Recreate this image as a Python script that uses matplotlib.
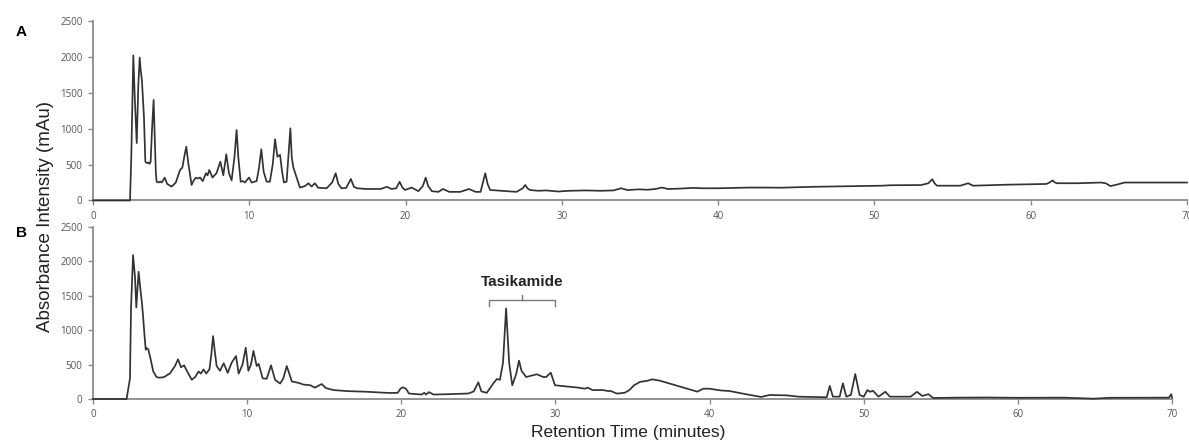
import numpy as np
import matplotlib
matplotlib.use("Agg")
import matplotlib.pyplot as plt

# chromatogram A (time in min, absorbance in mAu)
a_t = [0, 2.3, 2.37, 2.45, 2.58, 2.68, 2.80, 2.90, 2.99, 3.06, 3.13, 3.26, 3.35, 3.45, 3.55, 3.62,
       3.69, 3.78, 3.88, 3.95, 4.02, 4.07, 4.2, 4.3, 4.4, 4.59, 4.75, 5.03, 5.3, 5.57, 5.72, 5.85,
       5.97, 6.1, 6.31, 6.45, 6.59, 6.72, 6.85, 7.02, 7.23, 7.33, 7.44, 7.65, 7.9, 8.15, 8.34, 8.53,
       8.7, 8.87, 9.05, 9.19, 9.3, 9.45, 9.6, 9.72, 9.98, 10.15, 10.47, 10.62, 10.77, 10.92, 11.11,
       11.32, 11.5, 11.65, 11.8, 11.97, 12.1, 12.22, 12.39, 12.5, 12.63, 12.72, 12.82, 13.03, 13.24,
       13.56, 13.78, 13.99, 14.2, 14.4, 14.95, 15.3, 15.53, 15.7, 15.9, 16.2, 16.5, 16.7, 16.9, 17.5,
       18.4, 18.8, 19.1, 19.4, 19.62, 19.8, 19.96, 20.39, 20.82, 21.1, 21.29, 21.45, 21.68, 22.1,
       22.4, 22.8, 23.5, 24.06, 24.48, 24.8, 24.95, 25.1, 25.25, 25.41, 25.8, 26.5, 27.1, 27.5,
       27.66, 27.8, 27.96, 28.5, 29.0, 29.75, 30.5, 31.5, 32.5, 33.3, 33.8, 34.2, 34.9, 35.5, 36.0,
       36.4, 36.8, 37.5, 38.4, 39.0, 40.0, 41.0, 42.0, 43.0, 44.0, 46.0, 48.8, 50.5, 51.0, 53.0,
       53.45, 53.7, 53.85, 54.0, 55.5, 56.0, 56.3, 58.5, 61.0, 61.2, 61.4, 61.55, 61.7, 63.0, 64.5,
       64.8, 65.1, 65.5, 66.0, 70]
a_v = [0, 0, 0, 600, 2020, 1400, 800, 1600, 1990, 1800, 1680, 1170, 540, 520, 530, 510,
       540, 1000, 1400, 900, 400, 262, 250, 265, 250, 318, 230, 193, 250, 425, 460, 620,
       750, 520, 216, 280, 318, 305, 320, 270, 379, 350, 425, 320, 379, 540, 350, 643,
       380, 280, 600, 982, 600, 262, 270, 250, 320, 250, 270, 450, 713, 400, 262,
       262, 500, 852, 610, 635, 400, 250, 262, 600, 1005, 600, 460, 320, 180,
       200, 240, 195, 240, 178, 170, 250, 379, 230, 170, 175, 300, 190, 170, 160,
       160, 190, 160, 170, 260, 180, 146, 180, 130, 200, 318, 200, 130, 120,
       160, 120, 120, 160, 120, 120, 250, 379, 230, 146, 140, 130, 120, 170,
       216, 170, 146, 135, 140, 125, 135, 140, 135, 140, 170, 145, 155, 150, 160,
       180, 160, 165, 175, 170, 170, 175, 180, 180, 178, 190, 200, 206, 212, 215,
       240, 295, 240, 206, 206, 240, 206, 220, 230, 250, 280, 250, 240, 240, 250,
       240, 200, 220, 250, 250]

# chromatogram B
b_t = [0, 2.18, 2.29, 2.4, 2.47, 2.6, 2.73, 2.81, 2.96, 3.07, 3.18, 3.24, 3.33, 3.42, 3.48, 3.59,
       3.74, 3.91, 4.12, 4.3, 4.56, 4.7, 4.82, 4.99, 5.32, 5.52, 5.71, 5.91, 6.09, 6.41, 6.63, 6.85,
       7.0, 7.17, 7.35, 7.56, 7.68, 7.79, 7.9, 8.02, 8.24, 8.48, 8.74, 9.0, 9.28, 9.45, 9.7, 9.91,
       10.08, 10.25, 10.41, 10.62, 10.75, 11.01, 11.27, 11.55, 11.81, 12.14, 12.35, 12.57, 12.9,
       13.33, 13.66, 14.1, 14.4, 14.6, 14.84, 15.1, 15.6, 16.5, 17.7, 18.6, 19.2, 19.77, 19.95,
       20.1, 20.3, 20.5, 21.3, 21.5, 21.6, 21.8, 22.1, 23.0, 24.35, 24.7, 25.0, 25.2, 25.55, 25.98,
       26.2, 26.4, 26.6, 26.8, 27.0, 27.2, 27.45, 27.64, 27.8, 28.1, 28.55, 28.8, 29.2, 29.4, 29.7,
       29.97, 30.4, 30.85, 31.5, 31.9, 32.1, 32.4, 33.1, 33.4, 33.6, 34.0, 34.5, 34.8, 35.1, 35.5,
       35.9, 36.3, 36.8, 38.1, 39.2, 39.6, 40.0, 40.7, 41.3, 42.4, 43.35, 43.9, 45.0, 45.8, 47.6,
       47.8, 48.0, 48.44, 48.65, 48.87, 49.17, 49.45, 49.73, 50.0, 50.24, 50.4, 50.6, 50.96, 51.4,
       51.7, 53.05, 53.45, 53.8, 54.2, 54.5, 56, 58, 60, 63, 64.9, 66, 69.8, 69.95, 70]
b_v = [0, 0, 155, 300, 1340, 2092, 1760, 1330, 1850, 1610, 1390, 1230, 960, 718, 740, 722,
       580, 400, 320, 310, 316, 330, 350, 370, 480, 577, 460, 490, 410, 280, 320, 400,
       370, 430, 370, 435, 650, 915, 700, 480, 410, 520, 380, 530, 625, 370, 500, 746,
       410, 500, 700, 480, 510, 300, 295, 490, 280, 225, 300, 480, 256,
       235, 210, 200, 165, 190, 218, 160, 130, 115, 106, 95, 88, 90, 150,
       170, 150, 80, 65, 90, 65, 100, 65, 70, 80, 110, 243, 110, 90, 230,
       290, 280, 525, 1318, 525, 200, 360, 557, 410, 320, 345, 360, 320, 320, 383,
       200, 190, 180, 165, 150, 165, 130, 130, 116, 116, 78, 92, 130, 200, 250,
       262, 286, 265, 180, 107, 150, 150, 125, 116, 68, 30, 58, 53, 34, 25,
       190, 34, 34, 228, 34, 60, 363, 60, 34, 130, 105, 120, 34, 105,
       34, 34, 105, 45, 70, 15, 20, 22, 18, 20, 5, 18, 20, 70, 20]

x_ticks = [0, 10, 20, 30, 40, 50, 60, 70]
y_ticks = [0, 500, 1000, 1500, 2000, 2500]
bracket_x = [25.7, 30.0]

fig = plt.figure(figsize=(11.89, 4.41), dpi=100)
ax_a = fig.add_axes([0.0782, 0.5454, 0.9201, 0.4070])
ax_b = fig.add_axes([0.0782, 0.0952, 0.9075, 0.3900])

line_col = "#333333"
spine_col = "#8a8a8a"
tick_col = "#555555"

for ax, t, v in [(ax_a, a_t, a_v), (ax_b, b_t, b_v)]:
    ax.plot(t, v, color=line_col, lw=1.25, clip_on=False, zorder=3,
            solid_joinstyle="round")
    ax.set_xlim(0, 70)
    ax.set_ylim(0, 2500)
    ax.set_xticks(x_ticks)
    ax.set_yticks(y_ticks)
    for s in ["top", "right"]:
        ax.spines[s].set_visible(False)
    for s in ["left", "bottom"]:
        ax.spines[s].set_color(spine_col)
        ax.spines[s].set_linewidth(1.3)
    ax.tick_params(axis="both", colors=spine_col, length=3.5, width=1.0,
                   labelsize=7, labelcolor=tick_col, pad=4)
    for lab in ax.get_xticklabels() + ax.get_yticklabels():
        lab.set_family("Open Sans")

fig.text(0.0135, 0.928, "A", fontsize=11, fontweight="bold", family="Liberation Sans",
         ha="left", va="center")
fig.text(0.0135, 0.472, "B", fontsize=11, fontweight="bold", family="Liberation Sans",
         ha="left", va="center")

fig.text(0.038, 0.51, "Absorbance Intensity (mAu)", rotation=90, fontsize=13.5,
         family="Liberation Sans", color="#222222", ha="center", va="center")
fig.text(0.528, 0.02, "Retention Time (minutes)", fontsize=12.5,
         family="Liberation Sans", color="#222222", ha="center", va="center")

# bracket over the tasikamide peaks
bx0, bx1 = bracket_x
bmid = (bx0 + bx1) / 2
ax_b.plot([bx0, bx0, bx1, bx1], [1345, 1441, 1441, 1345], color="#7a7a7a", lw=1.0)
ax_b.plot([bmid, bmid], [1441, 1515], color="#7a7a7a", lw=1.0)
ax_b.text(bmid, 1700, "Tasikamide", fontsize=11, fontweight="bold",
          family="Liberation Sans", color="#222222", ha="center", va="center")

fig.savefig("out.png", dpi=100)
